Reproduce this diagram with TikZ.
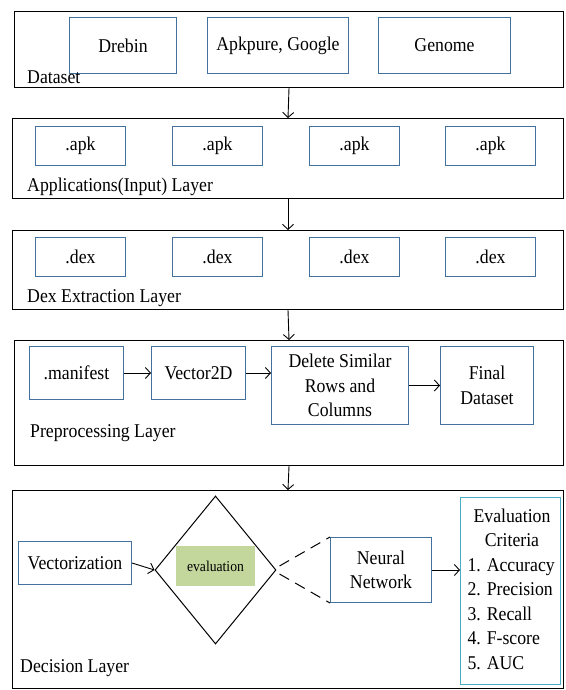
\documentclass[tikz,border=0pt]{standalone}
\usepackage{fontspec}
\setmainfont{Liberation Serif}[FakeStretch=0.91]
\usetikzlibrary{arrows.meta,shapes.geometric}
\definecolor{boxblue}{RGB}{65,113,156}
\definecolor{critblue}{RGB}{75,172,198}
\definecolor{evalgreen}{RGB}{195,214,155}
\begin{document}
\begin{tikzpicture}[x=1pt,y={(0,-1pt)},
  font=\fontsize{19.5}{24.5}\selectfont,
  layer/.style={draw=black,line width=1pt,inner sep=0pt,anchor=north west},
  ibox/.style={draw=boxblue,line width=1pt,inner sep=0pt,align=center,anchor=north west},
  lbl/.style={anchor=base west,inner sep=0pt},
  arr/.style={line width=0.9pt,-{Straight Barb[length=5pt,width=11pt]}},
  dsh/.style={line width=1pt,dash pattern=on 11pt off 7pt}]
\useasboundingbox (0,0) rectangle (565,690);
% layer 1
\node[layer,minimum width=549,minimum height=76] (L1) at (14,11) {};
\node[ibox,minimum width=107,minimum height=56] (drebin) at (69,17) {Drebin};
\node[ibox,minimum width=141,minimum height=56] (apkpure) at (207,17) {Apkpure, Google};
\node[ibox,minimum width=132,minimum height=56] (genome) at (378,17) {Genome};
\node[lbl] (t1) at (27,84) {Dataset};
% layer 2
\node[layer,minimum width=551,minimum height=80] (L2) at (12,118) {};
\foreach \x/\n in {35/a1,172/a2,309/a3,445/a4}
  \node[ibox,minimum width=90,minimum height=39] (\n) at (\x,126) {.apk};
\node[lbl] (t2) at (27,191) {Applications(Input) Layer};
% layer 3
\node[layer,minimum width=551,minimum height=79] (L3) at (12,230) {};
\foreach \x/\n in {35/d1,172/d2,309/d3,445/d4}
  \node[ibox,minimum width=90,minimum height=39] (\n) at (\x,237) {.dex};
\node[lbl] (t3) at (27,302) {Dex Extraction Layer};
% layer 4
\node[layer,minimum width=549,minimum height=125] (L4) at (14,340) {};
\node[ibox,minimum width=94,minimum height=53] (man) at (29,346) {.manifest};
\node[ibox,minimum width=94,minimum height=53] (vec) at (151,346) {Vector2D};
\node[ibox,minimum width=137,minimum height=78] (del) at (271,346) {Delete Similar\\Rows and\\Columns};
\node[ibox,minimum width=93,minimum height=78] (fin) at (440,346) {Final\\Dataset};
\node[lbl] (t4) at (30,437) {Preprocessing Layer};
% layer 5
\node[layer,minimum width=551,minimum height=198] (L5) at (12,490) {};
\node[ibox,minimum width=113,minimum height=43] (vz) at (18,541) {Vectorization};
\node[draw=black,line width=1pt,diamond,minimum width=121,minimum height=148,inner sep=0pt] (dia) at (215.5,570) {};
\node[fill=evalgreen,minimum width=79,minimum height=40,inner sep=0pt,font=\fontsize{15}{17}\selectfont] (ev) at (215.5,566) {evaluation};
\node[ibox,minimum width=101,minimum height=65] (nn) at (330,537) {Neural\\Network};
\node[draw=critblue,line width=1pt,inner sep=0pt,anchor=north west,minimum width=100,minimum height=187] (crit) at (460,497) {};
\node[anchor=north,inner sep=0pt] (crittxt) at (512,505) {\begin{tabular}{@{}l@{}}\multicolumn{1}{c}{Evaluation}\\\multicolumn{1}{c}{Criteria}\\1. Accuracy\\2. Precision\\3. Recall\\4. F-score\\5. AUC\end{tabular}};
\node[lbl] (t5) at (20,672) {Decision Layer};
% connectors
\draw[arr] (L1.south) -- (L2.north);
\draw[arr] (L2.south) -- (L3.north);
\draw[arr] (L3.south) -- (L4.north);
\draw[arr] (L4.south) -- (L5.north);
\draw[arr] (man.east) -- (vec.west);
\draw[arr] (vec.east) -- (del.west |- vec.east);
\draw[arr] (del.east |- fin.west) -- (fin.west);
\draw[arr] (vz.east) -- (dia.west);
\draw[dsh] ([shift={(3,-4)}]dia.east) -- (nn.north west);
\draw[dsh] ([shift={(3,4)}]dia.east) -- (nn.south west);
\draw[arr] (nn.east) -- (crit.west |- nn.east);
\end{tikzpicture}
\end{document}
